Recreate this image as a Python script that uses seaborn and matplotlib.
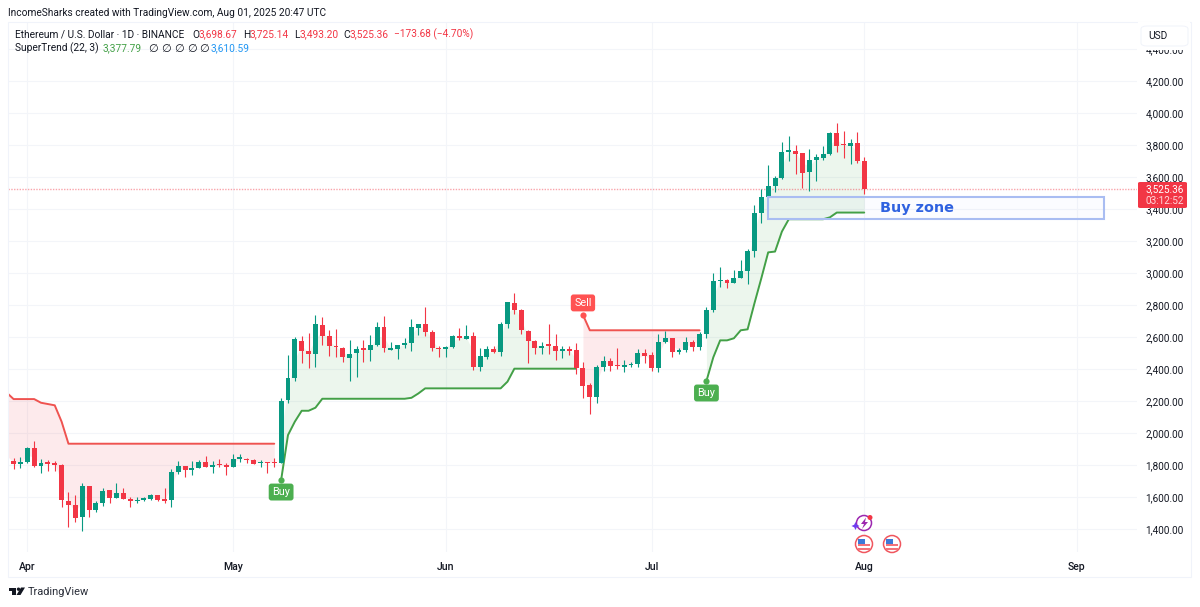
import numpy as np
import pandas as pd
import seaborn as sns
import matplotlib
matplotlib.use("Agg")
import matplotlib.pyplot as plt
import matplotlib.dates as mdates
from matplotlib.patches import Rectangle, FancyBboxPatch, Ellipse, Polygon

# ---------- data ----------
start_date = "2025-03-29"
opens = [1894,1825,1808,1821,1904,1791,1816,1814,1802,1575,1548,1473,1667,1519,1564,1644,1594,1623,1585,1573,1583,1587,1610,1583,1579,1756,1791,1766,1783,1821,1789,1806,1798,
         1789,1839,1839,1831,1812,1819,1819,1812,2204,2342,2577,2512,2496,2675,2608,2546,2533,2469,2500,2529,2521,2550,2662,2521,2523,2550,2562,2656,2683,2631,2531,
         2523,2539,2606,2589,2606,2412,2477,2525,2508,2679,2812,2769,2639,2577,2529,2550,2544,2510,2523,2519,2404,2300,2225,2413,2448,2421,2415,2423,2434,2500,2486,
         2404,2571,2592,2509,2517,2569,2538,2617,2769,2950,2954,2940,2969,3011,3138,3373,3477,3546,3592,3754,3765,3748,3629,3707,3721,3742,3873,3804,3796,3811,3698.67]
highs = [1894,1846,1848,1914,1950,1839,1831,1823,1804,1633,1614,1685,1667,1577,1654,1644,1687,1658,1602,1602,1602,1619,1614,1654,1773,1825,1796,1825,1833,1854,1825,1835,1810,
         1869,1869,1846,1839,1829,1819,1846,2216,2487,2602,2606,2623,2737,2723,2644,2648,2539,2581,2546,2581,2612,2691,2731,2571,2550,2596,2714,2681,2789,2644,2546,
         2546,2612,2654,2677,2633,2529,2544,2546,2691,2821,2877,2773,2644,2581,2571,2679,2616,2546,2546,2560,2446,2311,2425,2482,2467,2529,2457,2442,2523,2523,2506,
         2619,2640,2592,2534,2602,2581,2634,2790,2998,3036,2963,3019,3082,3148,3425,3523,3675,3609,3821,3857,3800,3752,3773,3742,3794,3881,3940,3886,3836,3879,3725.14]
lows = [1825,1773,1781,1814,1785,1748,1764,1764,1535,1412,1442,1385,1473,1506,1546,1564,1594,1585,1535,1564,1575,1583,1573,1564,1539,1744,1725,1737,1779,1785,1748,1785,1737,
        1787,1816,1814,1804,1785,1752,1789,1810,2189,2325,2435,2408,2414,2548,2481,2477,2446,2327,2348,2441,2452,2546,2504,2519,2464,2529,2510,2612,2608,2510,2473,
        2473,2533,2581,2585,2394,2385,2460,2498,2481,2658,2744,2619,2439,2494,2494,2494,2456,2471,2487,2369,2221,2119,2190,2388,2388,2398,2384,2415,2415,2436,2388,
        2379,2565,2477,2494,2509,2515,2519,2592,2759,2915,2909,2936,2967,2932,3102,3315,3467,3509,3586,3702,3619,3529,3515,3577,3707,3738,3757,3717,3682,3690,3493.20]
closes = [1825,1804,1821,1904,1791,1814,1808,1802,1579,1550,1471,1667,1521,1562,1639,1594,1623,1587,1575,1581,1591,1610,1583,1577,1756,1794,1766,1783,1819,1787,1798,1798,1789,
          1835,1844,1831,1808,1819,1812,1810,2202,2344,2585,2514,2496,2679,2608,2546,2535,2473,2494,2525,2519,2550,2662,2529,2533,2550,2564,2662,2681,2629,2529,2523,
          2535,2606,2591,2606,2412,2479,2525,2506,2679,2816,2769,2644,2575,2529,2546,2546,2510,2525,2514,2404,2294,2225,2411,2448,2419,2417,2423,2434,2500,2482,2407,
          2571,2592,2509,2521,2569,2540,2617,2769,2948,2957,2940,2971,3011,3138,3373,3477,3546,3594,3754,3767,3744,3627,3707,3725,3744,3873,3796,3798,3811,3698,3525.36]

supertrend_down_1 = [2252,2212,2212,2212,2212,2189,2181,2173,2071] + [1933] * 31
supertrend_up_1 = [1706,1987,2071,2139,2139,2158] + [2214] * 13 + [2220,2247] + [2279] * 12 + [2321] + [2402] * 10
supertrend_down_2 = [2738] + [2642] * 17
supertrend_up_2 = [2325,2473,2579,2579,2592,2642,2648,2811,2967,3129,3134,3259,3336,3336,3336,3336,3336,3336,3348,3377.79,3377.79,3377.79,3377.79,3377.79]

price_ticks = list(range(1400, 4600, 200))
month_labels = ["Apr", "May", "Jun", "Jul", "Aug", "Sep"]
month_starts = ["2025-04-01", "2025-05-01", "2025-06-01", "2025-07-01", "2025-08-01", "2025-09-01"]
last_price = 3525.36
buy_zone_low, buy_zone_high = 3338, 3477
buy_zone_start, buy_zone_end = "2025-07-18", "2025-09-05"

# ---------- theme ----------
sns.set_theme(style="white")
plt.rcParams["font.family"] = ["Roboto", "DejaVu Sans"]
INK = "#131722"
UP, DOWN = "#089981", "#F23645"
ST_GREEN, ST_RED = "#43A047", "#EF5350"
GRID = "#F3F5F9"

W, H = 1200, 607
fig = plt.figure(figsize=(W / 100, H / 100), dpi=100, facecolor="white")
L, R, T, B = 8, 1137, 22, 552
ax = fig.add_axes([L / W, 1 - B / H, (R - L) / W, (B - T) / H])

def fx(x): return x / W
def fy(y): return 1 - y / H

dates = pd.date_range(start_date, periods=len(opens), freq="D")
df = pd.DataFrame({"date": dates, "open": opens, "high": highs, "low": lows, "close": closes})
df["mid"] = (df["open"] + df["close"]) / 2
df["up"] = df["close"] >= df["open"]

# x positions: 1 day = 6.86 px, Apr 1 at 27.3 px
apr1 = mdates.date2num(pd.Timestamp("2025-04-01"))
ax.set_xlim(apr1 + (L - 27.3) / 6.86, apr1 + (R - 27.3) / 6.86)
ax.set_ylim(4000 - (B - 113) * 6.25, 4000 + (113 - T) * 6.25)

# ---------- supertrend ----------
segments = [
    (0, supertrend_down_1, ST_RED, DOWN),
    (40, supertrend_up_1, ST_GREEN, "#4CAF50"),
    (84, supertrend_down_2, ST_RED, DOWN),
    (102, supertrend_up_2, ST_GREEN, "#4CAF50"),
]
for i0, vals, line_c, fill_c in segments:
    seg = df.iloc[i0:i0 + len(vals)].copy()
    seg["st"] = vals
    ax.fill_between(seg["date"], seg["mid"], seg["st"], color=fill_c, alpha=0.10, lw=0, zorder=1)
    sns.lineplot(data=seg, x="date", y="st", color=line_c, linewidth=1.4, ax=ax, zorder=3,
                 estimator=None, errorbar=None)

# ---------- candles ----------
for is_up, colr in ((True, UP), (False, DOWN)):
    d = df[df["up"] == is_up]
    ax.vlines(d["date"], d["low"], d["high"], color=colr, lw=0.8, zorder=4)
    ax.bar(d["date"], (d["close"] - d["open"]).abs().clip(lower=8), bottom=d[["open", "close"]].min(axis=1),
           width=0.72, color=colr, lw=0, zorder=5)

# ---------- last price and buy zone ----------
ax.axhline(last_price, color=DOWN, lw=1.0, ls=(0, (1, 1)), alpha=0.45, zorder=2)
x0 = mdates.date2num(pd.Timestamp(buy_zone_start))
x1 = mdates.date2num(pd.Timestamp(buy_zone_end))
ax.add_patch(Rectangle((x0, buy_zone_low), x1 - x0, buy_zone_high - buy_zone_low,
                       fill=False, edgecolor="#A9BDF2", lw=1.5, zorder=6))
ax.add_patch(Rectangle((x0, buy_zone_low), x1 - x0, buy_zone_high - buy_zone_low,
                       facecolor="#2962FF", alpha=0.015, lw=0, zorder=2))
ax.text(mdates.date2num(pd.Timestamp("2025-08-03")) + 0.3, (buy_zone_low + buy_zone_high) / 2, "Buy zone",
        color="#2F62E0", fontsize=10.4, fontweight="bold", va="center", ha="left", zorder=7, family="DejaVu Sans")

# ---------- signals ----------
def signal(i, price, text, colr, dy):
    ax.scatter([df["date"].iloc[i]], [price], s=20, color=colr, zorder=7, lw=0)
    ax.annotate(text, xy=(mdates.date2num(df["date"].iloc[i]), price), xytext=(0, dy), textcoords="offset pixels",
                ha="center", va="center", color="white", fontsize=7.8, zorder=8,
                bbox=dict(boxstyle="round,pad=0.32,rounding_size=0.25", fc=colr, ec=colr, lw=0))

signal(40, supertrend_up_1[0], "Buy", "#4CAF50", -12)
signal(84, supertrend_down_2[0], "Sell", "#FF5252", 12)
signal(102, supertrend_up_2[0], "Buy", "#4CAF50", -12)

# ---------- axes ----------
ax.set_xlabel("")
ax.set_ylabel("")
ax.set_xticks([mdates.date2num(pd.Timestamp(m)) for m in month_starts])
ax.set_xticklabels(month_labels, fontsize=7.6, color=INK, fontweight="medium")
ax.yaxis.tick_right()
ax.set_yticks(price_ticks)
ax.set_yticklabels([f"{p:,.2f}" for p in price_ticks], fontsize=7.2, color=INK, va="center_baseline")
ax.tick_params(axis="both", length=0)
ax.tick_params(axis="x", pad=7.5)
ax.tick_params(axis="y", pad=6)
ax.grid(True, color=GRID, lw=0.8, zorder=0)
ax.set_axisbelow(True)
for s in ax.spines.values():
    s.set_visible(False)

# ---------- frame ----------
fig.add_artist(Rectangle((fx(8), fy(577)), (1191 - 8) / W, (577 - 22) / H, transform=fig.transFigure,
                         fill=False, edgecolor="#F0F3FA", lw=0.8, zorder=1))

# USD box and last price tag
fig.add_artist(Rectangle((fx(1138), fy(49.5)), 52 / W, 28 / H, transform=fig.transFigure, fc="white", ec="none", zorder=5))
fig.add_artist(FancyBboxPatch((fx(1141), fy(46)), 47 / W, 20 / H, transform=fig.transFigure,
                              boxstyle="round,pad=0,rounding_size=0.005", fc="white", ec="#F0F3FA", lw=0.7, zorder=6))
fig.text(fx(1148), fy(36), "USD", fontsize=7.3, color=INK, va="center", ha="left", zorder=7)
fig.add_artist(FancyBboxPatch((fx(1138), fy(208)), 49 / W, 26 / H, transform=fig.transFigure,
                              boxstyle="round,pad=0,rounding_size=0.002", fc=DOWN, ec="none", zorder=5))
fig.text(fx(1145), fy(189), f"{last_price:,.2f}", fontsize=7.2, color="white", va="center", ha="left", zorder=7)
fig.text(fx(1145), fy(200.5), "03:12:52", fontsize=7.2, color="#FFD7DB", va="center", ha="left", zorder=7)

# ---------- header texts ----------
def t(x, y, s, c=INK, fs=7.3, **kw):
    fig.text(fx(x), fy(y), s, fontsize=fs, color=c, va="center", ha="left", zorder=7, **kw)

t(8, 12.5, "IncomeSharks created with TradingView.com, Aug 01, 2025 20:47 UTC")
t(15, 34.5, "Ethereum / U.S. Dollar · 1D · BINANCE")
for x, s in [(192, "O"), (243, "H"), (294, "L"), (343, "C")]:
    t(x, 34.5, s)
for x, s in [(199, "3,698.67"), (250, "3,725.14"), (299.5, "3,493.20"), (349.5, "3,525.36"), (394, "−173.68 (−4.70%)")]:
    t(x, 34.5, s, DOWN)
t(15, 48.5, "SuperTrend (22, 3)")
t(103, 48.5, "3,377.79", "#43A047")
for x in (148, 161, 174, 187, 199):
    t(x, 48.5, "∅", fs=8)
t(211, 48.5, "3,610.59", "#2196F3")

# ---------- event icons ----------
for cx in (864, 892):
    fig.add_artist(Ellipse((fx(cx), fy(544)), 17 / W, 17 / H, transform=fig.transFigure, fc="white", ec="#F0565E", lw=1.1, zorder=6))
    for yy in (544.5, 548.5):
        fig.add_artist(Rectangle((fx(cx - 6), fy(yy + 1)), 12 / W, 1.6 / H, transform=fig.transFigure, fc="#F4727A", ec="none", zorder=7))
    fig.add_artist(Rectangle((fx(cx - 6), fy(544)), 7 / W, 5.5 / H, transform=fig.transFigure, fc="#3E79D8", ec="none", zorder=7))
fig.add_artist(Ellipse((fx(864), fy(523)), 15 / W, 15 / H, transform=fig.transFigure, fc="white", ec="#9C27B0", lw=1.1, zorder=6))
fig.add_artist(Polygon([(fx(866), fy(517.5)), (fx(861), fy(524)), (fx(864), fy(524)), (fx(862), fy(529)),
                        (fx(868), fy(522)), (fx(865), fy(522))], transform=fig.transFigure, fc="#9C27B0", ec="none", zorder=7))
fig.add_artist(Polygon([(fx(855.5), fy(522)), (fx(856.8), fy(524.7)), (fx(859.5), fy(526)), (fx(856.8), fy(527.3)),
                        (fx(855.5), fy(530)), (fx(854.2), fy(527.3)), (fx(851.5), fy(526)), (fx(854.2), fy(524.7))],
                       transform=fig.transFigure, fc="#6F3CF0", ec="none", zorder=8))
fig.add_artist(Ellipse((fx(870), fy(517.5)), 5 / W, 5 / H, transform=fig.transFigure, fc="#F23645", ec="none", zorder=8))

# ---------- TradingView logo ----------
logo = "#131722"
fig.add_artist(Polygon([(fx(8.5), fy(587.5)), (fx(16), fy(587.5)), (fx(16), fy(595)), (fx(12), fy(595)),
                        (fx(12), fy(591)), (fx(8.5), fy(591))], transform=fig.transFigure, fc=logo, ec="none", zorder=7))
fig.add_artist(Ellipse((fx(18.5), fy(589.2)), 3.4 / W, 3.4 / H, transform=fig.transFigure, fc=logo, ec="none", zorder=7))
fig.add_artist(Polygon([(fx(20.5), fy(595)), (fx(16.5), fy(595)), (fx(21), fy(587.5)), (fx(25), fy(587.5))],
                       transform=fig.transFigure, fc=logo, ec="none", zorder=7))
t(27.5, 592, "TradingView", "#2A2E39", 7.9)

fig.savefig("out.png", dpi=100)
